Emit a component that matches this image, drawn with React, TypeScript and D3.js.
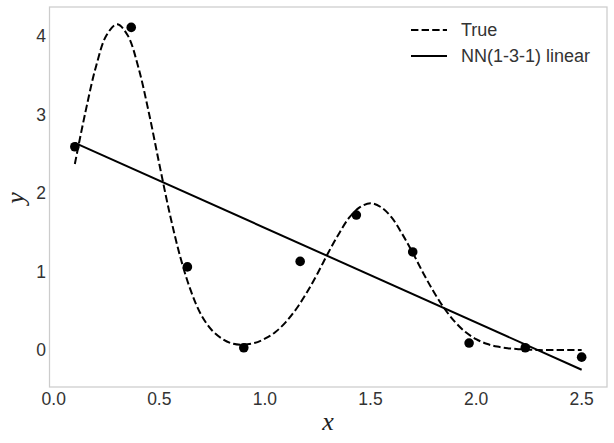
import React from "react";
import * as d3 from "d3";

const sampleX = [0.1, 0.367, 0.633, 0.9, 1.167, 1.433, 1.7, 1.967, 2.233, 2.5];
const sampleY = [2.59, 4.11, 1.06, 0.03, 1.13, 1.72, 1.25, 0.09, 0.03, -0.09];

const trueX = [0.1, 0.15, 0.2, 0.25, 0.3, 0.35, 0.4, 0.45, 0.5, 0.55, 0.6, 0.65, 0.7, 0.75, 0.8, 0.85, 0.9, 0.95, 1.0, 1.05, 1.1, 1.15, 1.2, 1.25, 1.3, 1.35, 1.4, 1.45, 1.5, 1.55, 1.6, 1.65, 1.7, 1.75, 1.8, 1.85, 1.9, 1.95, 2.0, 2.05, 2.1, 2.15, 2.2, 2.25, 2.3, 2.35, 2.4, 2.45, 2.5];
const trueY = [2.37, 3.03, 3.61, 4.01, 4.15, 4.01, 3.61, 3.03, 2.37, 1.73, 1.18, 0.75, 0.44, 0.25, 0.14, 0.08, 0.07, 0.09, 0.145, 0.23, 0.36, 0.53, 0.74, 0.98, 1.24, 1.48, 1.69, 1.82, 1.87, 1.82, 1.69, 1.48, 1.24, 0.98, 0.74, 0.53, 0.36, 0.23, 0.14, 0.08, 0.045, 0.024, 0.012, 0.006, 0.0, 0.0, 0.0, 0.0, 0.0];

const nnX = [0.1, 2.5];
const nnY = [2.64, -0.25];

const xTicks = [0.0, 0.5, 1.0, 1.5, 2.0, 2.5];
const yTicks = [0, 1, 2, 3, 4];
const legendLabels = ["True", "NN(1-3-1) linear"];

export default function App() {
  const W = 614, H = 443;
  const left = 49.5, right = 607, top = 7, bottom = 387;
  const x = d3.scaleLinear().domain([-0.02, 2.62]).range([left, right]);
  const y = d3.scaleLinear().domain([-0.47, 4.37]).range([bottom, top]);
  const line = d3.line<[number, number]>().x(d => x(d[0])).y(d => y(d[1]));
  const smooth = d3.line<[number, number]>().x(d => x(d[0])).y(d => y(d[1])).curve(d3.curveCatmullRom);
  const trueData = trueX.map((v, i) => [v, trueY[i]] as [number, number]);
  const nnData = nnX.map((v, i) => [v, nnY[i]] as [number, number]);
  const font = "'Liberation Sans', Arial, sans-serif";
  const serif = "'Liberation Serif', 'DejaVu Serif', serif";
  return (
    <svg width={W} height={H} style={{ position: "absolute", left: 0, top: 0 }}>
      <rect x={0} y={0} width={W} height={H} fill="white" />
      <path d={smooth(trueData) || ""} fill="none" stroke="black" strokeWidth={2} strokeDasharray="7.4,3.2" />
      <path d={line(nnData) || ""} fill="none" stroke="black" strokeWidth={2} />
      {sampleX.map((v, i) => (
        <circle key={i} cx={x(v)} cy={y(sampleY[i])} r={4.8} fill="black" />
      ))}
      <rect x={left} y={top} width={right - left} height={bottom - top} fill="none" stroke="#cccccc" strokeWidth={1.25} />
      {xTicks.map(t => (
        <text key={t} x={x(t)} y={405} textAnchor="middle" fontFamily={font} fontSize={17.5} fill="#333">{t.toFixed(1)}</text>
      ))}
      {yTicks.map(t => (
        <text key={t} x={46} y={y(t) + 6.3} textAnchor="end" fontFamily={font} fontSize={17.5} fill="#333">{t}</text>
      ))}
      <text x={328} y={430} textAnchor="middle" fontFamily={serif} fontStyle="italic" fontSize={26} fill="#222">x</text>
      <text transform={`translate(24,198) rotate(-90)`} textAnchor="middle" fontFamily={serif} fontStyle="italic" fontSize={26} fill="#222">y</text>
      <line x1={411} x2={447} y1={30} y2={30} stroke="black" strokeWidth={2} strokeDasharray="7.4,3.2" />
      <line x1={411} x2={447} y1={56} y2={56} stroke="black" strokeWidth={2} />
      <text x={461} y={36.3} fontFamily={font} fontSize={18} fill="#333">{legendLabels[0]}</text>
      <text x={461} y={62.3} fontFamily={font} fontSize={18} fill="#333">{legendLabels[1]}</text>
    </svg>
  );
}
